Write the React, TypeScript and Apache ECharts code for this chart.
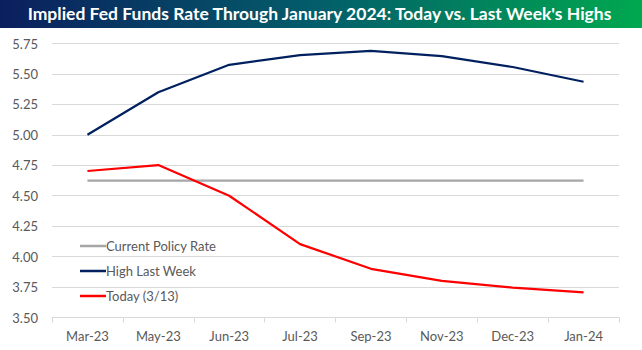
import React, { useEffect, useRef } from "react";
import * as echarts from "echarts";

const categories = ["Mar-23", "May-23", "Jun-23", "Jul-23", "Sep-23", "Nov-23", "Dec-23", "Jan-24"];
const currentPolicyRate = [4.625, 4.625, 4.625, 4.625, 4.625, 4.625, 4.625, 4.625];
const highLastWeek = [5.0, 5.35, 5.575, 5.655, 5.69, 5.647, 5.557, 5.436];
const today = [4.703, 4.752, 4.5, 4.103, 3.9, 3.8, 3.745, 3.706];
const yTicks = { min: 3.5, max: 5.75, interval: 0.25 };
const titleText = "Implied Fed Funds Rate Through January 2024: Today vs. Last Week's Highs";

const FONT = "Lato, 'Open Sans', sans-serif";

export default function App() {
  const ref = useRef<HTMLDivElement>(null);
  useEffect(() => {
    if (!ref.current) return;
    const chart = echarts.init(ref.current, null, { renderer: "svg" });
    chart.setOption({
      animation: false,
      backgroundColor: "#ffffff",
      textStyle: { fontFamily: FONT },
      graphic: [
        {
          type: "rect",
          left: 0,
          top: 0,
          shape: { x: 0, y: 0, width: 642, height: 28 },
          style: {
            fill: new echarts.graphic.LinearGradient(0, 0, 1, 0, [
              { offset: 0, color: "#0b1f5e" },
              { offset: 0.5, color: "#035e6a" },
              { offset: 1, color: "#00a84f" },
            ]),
          },
          z: 0,
        },
        {
          type: "text",
          left: "center",
          top: 4,
          style: {
            text: titleText,
            fill: "#ffffff",
            font: `bold 17.5px ${FONT}`,
          },
          z: 1,
        },
      ],
      grid: { left: 52, right: 23, top: 43.5, bottom: 32.5, containLabel: false },
      legend: {
        orient: "vertical",
        left: 75,
        top: 233,
        icon: "rect",
        itemWidth: 26,
        itemHeight: 2.5,
        itemGap: 9,
        textStyle: { color: "#595959", fontSize: 13, fontFamily: FONT, lineHeight: 16, padding: [0, 0, 0, -5] },
        data: ["Current Policy Rate", "High Last Week", "Today (3/13)"],
      },
      xAxis: {
        type: "category",
        data: categories,
        boundaryGap: true,
        axisLine: { lineStyle: { color: "#d9d9d9", width: 1 } },
        axisTick: { show: true, length: 5, lineStyle: { color: "#d9d9d9" } },
        axisLabel: { color: "#595959", fontSize: 13, fontFamily: FONT, margin: 12 },
        splitLine: { show: false },
      },
      yAxis: {
        type: "value",
        min: yTicks.min,
        max: yTicks.max,
        interval: yTicks.interval,
        axisLine: { show: false },
        axisTick: { show: false },
        axisLabel: {
          color: "#595959",
          fontSize: 13,
          fontFamily: FONT,
          margin: 14,
          formatter: (v: number) => v.toFixed(2),
        },
        splitLine: { lineStyle: { color: "#d9d9d9", width: 1 } },
      },
      series: [
        {
          name: "Current Policy Rate",
          type: "line",
          data: currentPolicyRate,
          symbol: "none",
          lineStyle: { color: "#a6a6a6", width: 2.25 },
          itemStyle: { color: "#a6a6a6" },
        },
        {
          name: "High Last Week",
          type: "line",
          data: highLastWeek,
          symbol: "none",
          lineStyle: { color: "#002060", width: 2.25 },
          itemStyle: { color: "#002060" },
        },
        {
          name: "Today (3/13)",
          type: "line",
          data: today,
          symbol: "none",
          lineStyle: { color: "#ff0000", width: 2.25 },
          itemStyle: { color: "#ff0000" },
        },
      ],
    });
    return () => chart.dispose();
  }, []);
  return <div ref={ref} style={{ width: 642, height: 350, position: "absolute", left: 0, top: 0 }} />;
}
